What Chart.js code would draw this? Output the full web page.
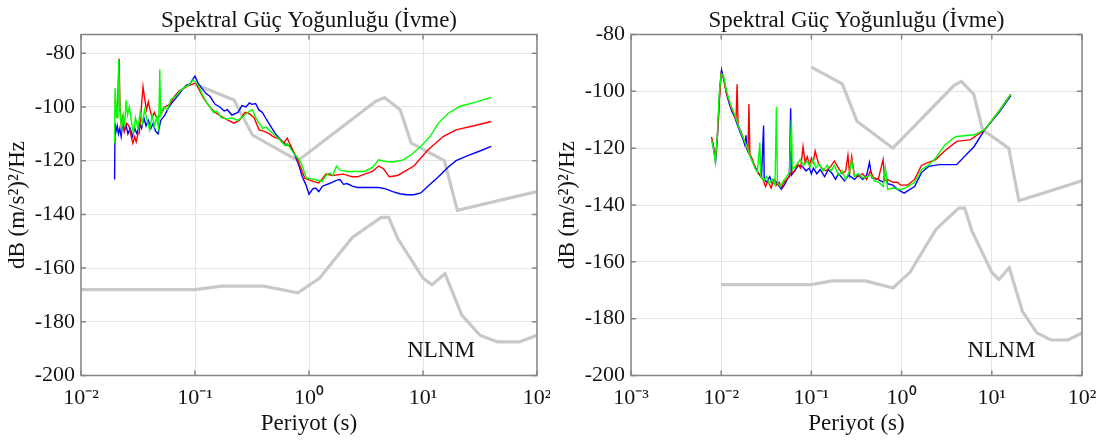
<!DOCTYPE html>
<html>
<head>
<meta charset="utf-8">
<script src="https://cdn.jsdelivr.net/npm/chart.js@4"></script>
<style>
  html, body { margin: 0; padding: 0; background: #fff; }
  #wrap { position: relative; width: 1100px; height: 441px; }
  .panel { position: absolute; top: 0; width: 550px; height: 441px; }
</style>
</head>
<body>
<div id="wrap">
  <div class="panel" style="left:0"><canvas id="left" width="550" height="441"></canvas></div>
  <div class="panel" style="left:550px"><canvas id="right" width="550" height="441"></canvas></div>
</div>
<script>
// ---- labels / ticks ----
const titleText = 'Spektral Güç Yoğunluğu (İvme)';
const xTitle = 'Periyot (s)';
const yTitle = 'dB (m/s²)²/Hz';
const yTicks = [-200, -180, -160, -140, -120, -100, -80];
const leftDecades = [-2, -1, 0, 1, 2];
const rightDecades = [-3, -2, -1, 0, 1, 2];

// ---- Peterson noise models (period s, dB) ----
const nhnm = [[0.1,-91.5],[0.22,-97.4],[0.32,-110.5],[0.8,-120.0],[3.8,-98.0],[4.6,-96.5],[6.3,-101.0],
  [7.9,-113.5],[15.4,-120.0],[20,-138.5],[100,-131.5]];
const nlnm = [[0.01,-168],[0.1,-168],[0.17,-166.7],[0.4,-166.7],[0.8,-169.2],[1.24,-163.7],[2.4,-148.6],
  [4.3,-141.1],[5.0,-141.1],[6.0,-149.0],[10,-163.7],[12,-166.2],[15.6,-162.1],[21.9,-177.5],[31.6,-185.0],
  [45,-187.5],[70,-187.5],[100,-185.0]];

// ---- left panel ----
const leftGreen = [[0.0197,-113.5],[0.0199,-93],[0.0203,-99],[0.0207,-104],[0.0211,-100],[0.0214,-82.5],[0.0218,-97],
  [0.0222,-104],[0.0228,-108],[0.0235,-103],[0.0242,-106],[0.0249,-97.5],[0.0256,-103],[0.0265,-100],[0.0276,-105],
  [0.0288,-110],[0.0300,-104],[0.0316,-108],[0.0330,-102],[0.0345,-106],[0.0362,-101],[0.0380,-105],[0.0400,-108.5],
  [0.0420,-103],[0.0440,-107],[0.0460,-104],[0.0480,-108],[0.0491,-86],[0.0500,-103],[0.0530,-100],[0.0570,-101],
  [0.0620,-97],[0.0680,-96],[0.0740,-94],[0.0810,-92.5],[0.0880,-92],[0.0950,-90],[0.1000,-90.5],[0.1070,-92],
  [0.1150,-95],[0.1250,-98],[0.1350,-100],[0.1450,-102],[0.1550,-101.5],[0.1700,-104],[0.1920,-104.5],[0.2100,-104],
  [0.2380,-105],[0.2740,-103],[0.3000,-101.5],[0.3200,-101],[0.3400,-104],[0.3650,-106],[0.3920,-108],[0.4200,-107.5],
  [0.4840,-110],[0.5500,-112],[0.6200,-114.5],[0.6440,-113.5],[0.7000,-116],[0.7600,-118],[0.8000,-119],[0.8550,-121],
  [0.9510,-126.5],[1.137,-127],[1.31,-127.7],[1.41,-125.5],[1.51,-124.6],[1.62,-125.5],[1.741,-122],[1.87,-123.5],
  [2.154,-124],[3.073,-124],[3.6,-122.5],[4.087,-119.7],[4.711,-120.3],[5.43,-120.5],[6.716,-119.7],[8.0,-117.5],
  [9.578,-114.7],[11.5,-111],[13.67,-106],[16.5,-102.5],[20.93,-99.8],[30,-98],[39.7,-96.4]];
const leftRed = [[0.0199,-97],[0.0205,-104],[0.0210,-98],[0.0216,-82],[0.0220,-101],[0.0226,-107],[0.0232,-104],
  [0.0240,-109],[0.0250,-106],[0.0263,-107],[0.0276,-111],[0.0285,-113.5],[0.0296,-111],[0.0305,-113],[0.0316,-110],
  [0.0325,-109.7],[0.0340,-99],[0.0350,-92.5],[0.0362,-97],[0.0375,-101],[0.0390,-98],[0.0403,-101],[0.0420,-104],
  [0.0440,-102],[0.0460,-104],[0.0499,-103],[0.0543,-100],[0.0600,-99],[0.0662,-96],[0.0730,-94],[0.0800,-93],
  [0.0880,-92],[0.0950,-91.5],[0.1014,-91],[0.1100,-94],[0.1200,-97],[0.1348,-100],[0.1500,-102],[0.1700,-103.5],
  [0.1922,-104.8],[0.2200,-106],[0.2450,-105],[0.2742,-102],[0.3000,-102.5],[0.3300,-104],[0.3646,-108.5],[0.4000,-109],
  [0.4500,-110],[0.4844,-111],[0.5500,-112],[0.6000,-113.5],[0.6438,-111.6],[0.7000,-115],[0.7967,-119.7],
  [0.9182,-126.5],[1.05,-127.5],[1.22,-128.3],[1.32,-126.5],[1.406,-125],[1.6,-125.5],[2.006,-125],[2.4,-126],
  [2.665,-126],[3.073,-125],[3.6,-124],[4.087,-122],[4.5,-123],[5.057,-126],[6.0,-125.5],[8.314,-122],[11.04,-116],
  [15,-111],[19.5,-108.5],[28,-107],[39.7,-105.4]];
const leftBlue = [[0.0197,-127],[0.0199,-106],[0.0203,-109],[0.0208,-107],[0.0213,-110],[0.0219,-108],[0.0225,-111],
  [0.0232,-106],[0.0240,-109],[0.0249,-107],[0.0258,-110],[0.0270,-108],[0.0283,-111],[0.0296,-108],[0.0310,-110],
  [0.0325,-106],[0.0340,-108],[0.0356,-104],[0.0372,-107],[0.0390,-105],[0.0410,-108],[0.0430,-106],[0.0450,-109],
  [0.0474,-110],[0.0500,-105],[0.0543,-103],[0.0590,-100],[0.0640,-98],[0.0700,-96],[0.0760,-94],[0.0830,-92],
  [0.0900,-91.5],[0.0960,-89.5],[0.1000,-88.5],[0.1060,-91],[0.1145,-93],[0.1250,-95],[0.1350,-96],[0.1500,-99],
  [0.1650,-100],[0.1800,-101.5],[0.1920,-101],[0.2108,-103],[0.2380,-102],[0.2583,-99.5],[0.2800,-100],[0.3000,-98.5],
  [0.3162,-99],[0.3400,-98.7],[0.3622,-101],[0.3900,-102],[0.4149,-104],[0.4500,-106.5],[0.5082,-110],[0.5600,-112],
  [0.6223,-114],[0.6900,-114.5],[0.7622,-118.5],[0.8200,-122],[0.8730,-126],[0.9400,-129],[1.000,-132.5],[1.080,-130.5],
  [1.137,-130.2],[1.220,-131.5],[1.310,-129.5],[1.510,-128.5],[1.741,-127.3],[1.870,-127],[2.006,-128.8],[2.154,-128.5],
  [2.400,-129.5],[2.665,-130],[3.073,-130],[4.087,-130],[4.711,-130.5],[5.430,-131.5],[6.256,-132.3],[7.200,-132.7],
  [8.314,-132.7],[9.578,-132],[11.04,-129.5],[13.67,-126],[16.50,-122.5],[19.50,-120],[25.0,-118],[32.0,-116.3],
  [39.7,-114.7]];

// ---- right panel ----
const rightGreen = [[0.0078,-117],[0.0082,-120],[0.0086,-125],[0.0090,-117],[0.0095,-101],[0.0100,-94],[0.0106,-94.5],
  [0.0113,-99],[0.0121,-102.5],[0.0130,-105.5],[0.0140,-108],[0.0151,-111],[0.0163,-114],[0.0176,-116.5],[0.0190,-119],
  [0.0205,-122],[0.0220,-124.5],[0.0236,-127],[0.0252,-128.5],[0.0268,-118],[0.0275,-130],[0.0295,-131.5],[0.0318,-130],
  [0.0340,-132.5],[0.0370,-131],[0.0395,-133],[0.0409,-105.5],[0.0420,-132],[0.0450,-133.5],[0.0490,-131.5],
  [0.0530,-130],[0.0570,-128.5],[0.0600,-110],[0.0615,-127.5],[0.0680,-126],[0.0750,-124],[0.0820,-126],[0.0900,-124.5],
  [0.0970,-126.5],[0.1040,-124],[0.1120,-127],[0.1220,-125.5],[0.1350,-128],[0.1500,-126],[0.1650,-128],[0.1800,-126],
  [0.2000,-129.5],[0.2200,-128],[0.2400,-131],[0.2650,-128],[0.2800,-124.5],[0.3000,-130],[0.3300,-129],[0.3700,-130.5],
  [0.4100,-130],[0.4600,-129.5],[0.5000,-131.5],[0.5600,-132],[0.6240,-133.5],[0.6600,-127],[0.7000,-134.5],
  [0.8000,-134],[0.9750,-134.6],[1.1000,-134],[1.3940,-132],[1.6670,-127.5],[1.9940,-126],[2.3840,-123.5],
  [3.0000,-119],[3.7260,-116.5],[4.0760,-115.9],[6.3730,-115.3],[8.3360,-113.5],[12.000,-107],[16.280,-101]];
const rightRed = [[0.0078,-116],[0.0082,-119],[0.0086,-124],[0.0090,-118],[0.0095,-104],[0.0100,-93.5],[0.0106,-95],
  [0.0113,-100],[0.0121,-103],[0.0130,-106],[0.0140,-108.5],[0.0146,-110],[0.0150,-97.5],[0.0154,-112],[0.0165,-114],
  [0.0178,-117],[0.0190,-119],[0.0198,-121],[0.0203,-104.5],[0.0208,-122],[0.0222,-124],[0.0238,-127],[0.0255,-128.5],
  [0.0273,-130],[0.0290,-131],[0.0310,-133.5],[0.0330,-131.5],[0.0357,-134],[0.0385,-131],[0.0410,-133],[0.0440,-132],
  [0.0464,-134],[0.0500,-132],[0.0550,-130.5],[0.0600,-128.5],[0.0653,-128],[0.0700,-125.5],[0.0760,-127],
  [0.0808,-119.5],[0.0850,-125],[0.0900,-123],[0.0950,-126],[0.1000,-123.5],[0.1045,-125],[0.1100,-121],[0.1200,-125.5],
  [0.1300,-127],[0.1450,-128],[0.1630,-126.5],[0.1800,-124.5],[0.2000,-127],[0.2200,-129],[0.2400,-128],[0.2540,-122.5],
  [0.2650,-129],[0.2800,-123],[0.3000,-129.5],[0.3337,-130],[0.3700,-129],[0.4100,-131],[0.4500,-128],[0.4900,-130.5],
  [0.5500,-131],[0.6240,-124],[0.6500,-131.5],[0.7000,-131],[0.8000,-132],[0.9000,-132],[0.9750,-133],[1.1660,-133],
  [1.3940,-131],[1.6670,-126],[1.9940,-125],[2.3840,-124],[3.0000,-121],[4.0760,-117.6],[5.8300,-117],[8.3360,-113.5],
  [12.000,-107],[16.280,-101]];
const rightBlue = [[0.0079,-117],[0.0083,-121],[0.0087,-124],[0.0092,-113],[0.0097,-98],[0.0101,-92.5],[0.0107,-96],
  [0.0114,-100.5],[0.0122,-104],[0.0131,-107],[0.0141,-109],[0.0152,-112],[0.0163,-114.5],[0.0175,-117],[0.0183,-119],
  [0.0188,-115.5],[0.0193,-120.5],[0.0205,-122],[0.0218,-124],[0.0232,-126],[0.0247,-127.5],[0.0262,-129],[0.0280,-130],
  [0.0295,-112],[0.0300,-131],[0.0320,-132],[0.0345,-130],[0.0370,-132.5],[0.0400,-131.5],[0.0430,-133],[0.0464,-134.5],
  [0.0500,-133],[0.0540,-131],[0.0570,-130],[0.0589,-106],[0.0600,-129.5],[0.0653,-128],[0.0720,-126],[0.0800,-126.5],
  [0.0870,-128],[0.0950,-127],[0.1000,-129],[0.1050,-127],[0.1150,-129],[0.1250,-127.5],[0.1400,-130],[0.1550,-127.5],
  [0.1700,-129],[0.1850,-131],[0.2000,-129],[0.2336,-131.5],[0.2600,-129.5],[0.3000,-131],[0.3337,-129.5],[0.3700,-131],
  [0.4100,-129.5],[0.4400,-125],[0.4700,-130.5],[0.5500,-131],[0.6240,-132],[0.6600,-128],[0.7000,-132.5],[0.8000,-133],
  [0.9000,-134.5],[1.0660,-135.8],[1.1660,-135],[1.3940,-133.5],[1.6670,-128.5],[1.9940,-126.4],[2.6070,-125.8],
  [4.0760,-125.8],[6.3730,-119.4],[8.3360,-113.5],[12.000,-107.5],[16.280,-101.5]];

// where the NLNM caption sits (period, dB)
const leftLabelAt = [14.4, -193.1];
const rightLabelAt = [12.8, -193.5];

const SERIF = '"Liberation Serif", "Times New Roman", serif';
const INK = '#141414';
const SUP = { '-': '⁻', '0': '⁰', '1': '¹', '2': '²', '3': '³' };
const pts = arr => arr.map(([x, y]) => ({ x, y }));
const powLabel = v => '10' + String(Math.round(Math.log10(v))).split('').map(c => SUP[c]).join('');

// box, inward tick marks, title and NLNM caption
const frame = {
  id: 'frame',
  afterDraw(chart, args, opts) {
    const { ctx, chartArea: a, scales: { x, y } } = chart;
    ctx.save();
    ctx.strokeStyle = '#858585';
    ctx.lineWidth = 1.5;
    ctx.beginPath();
    x.ticks.forEach(t => {
      const px = x.getPixelForValue(t.value);
      ctx.moveTo(px, a.bottom); ctx.lineTo(px, a.bottom - 5);
      ctx.moveTo(px, a.top); ctx.lineTo(px, a.top + 5);
    });
    y.ticks.forEach(t => {
      const py = y.getPixelForValue(t.value);
      ctx.moveTo(a.left, py); ctx.lineTo(a.left + 5, py);
      ctx.moveTo(a.right, py); ctx.lineTo(a.right - 5, py);
    });
    ctx.stroke();
    ctx.strokeRect(a.left, a.top, a.width, a.height);

    ctx.fillStyle = INK;
    ctx.font = '23px ' + SERIF;
    ctx.textAlign = 'center';
    ctx.textBaseline = 'alphabetic';
    ctx.fillText(titleText, (a.left + a.right) / 2, 27);
    ctx.fillText('NLNM', x.getPixelForValue(opts.label[0]), y.getPixelForValue(opts.label[1]));
    ctx.restore();
  }
};

function line(data, color, width) {
  return { data: pts(data), borderColor: color, borderWidth: width, pointRadius: 0, fill: false, tension: 0 };
}

function makeChart(id, xMin, decades, yMax, padRight, series, label) {
  const tickFont = { family: SERIF, size: 22 };
  const titleFont = { family: SERIF, size: 23 };
  const grid = { color: '#e4e4e4', lineWidth: 1, drawTicks: false };
  return new Chart(document.getElementById(id), {
    type: 'line',
    data: {
      datasets: [
        line(series[0], '#00ff00', 1.4),
        line(series[1], '#ff0000', 1.4),
        line(series[2], '#0000ff', 1.4),
        line(nhnm, '#c8c8c8', 3.2),
        line(nlnm, '#c8c8c8', 3.2)
      ]
    },
    options: {
      responsive: false,
      animation: false,
      devicePixelRatio: 1,
      layout: { padding: { top: 34.5, right: padRight, left: 0, bottom: 0 } },
      plugins: { legend: { display: false }, tooltip: { enabled: false }, frame: { label } },
      scales: {
        x: {
          type: 'logarithmic', min: xMin, max: 100,
          afterBuildTicks: s => { s.ticks = decades.map(d => ({ value: Math.pow(10, d) })); },
          afterFit: s => { s.height = 65.5; s.paddingLeft = 0; s.paddingRight = 0; },
          ticks: { callback: v => powLabel(v), font: tickFont, color: INK, padding: 10, maxRotation: 0, autoSkip: false },
          grid, border: { display: false },
          title: { display: true, text: xTitle, font: titleFont, color: INK, padding: { top: 0, bottom: 3 } }
        },
        y: {
          type: 'linear', min: -200, max: yMax,
          afterBuildTicks: s => { s.ticks = yTicks.map(v => ({ value: v })); },
          afterFit: s => { s.width = 81; s.paddingTop = 0; s.paddingBottom = 0; },
          ticks: { font: tickFont, color: INK, padding: 6 },
          grid, border: { display: false },
          title: { display: true, text: yTitle, font: titleFont, color: INK, padding: { top: 4, bottom: 0 } }
        }
      }
    },
    plugins: [frame]
  });
}

makeChart('left', 0.01, leftDecades, -73, 13, [leftGreen, leftRed, leftBlue], leftLabelAt);
makeChart('right', 0.001, rightDecades, -80, 18, [rightGreen, rightRed, rightBlue], rightLabelAt);
</script>
</body>
</html>
